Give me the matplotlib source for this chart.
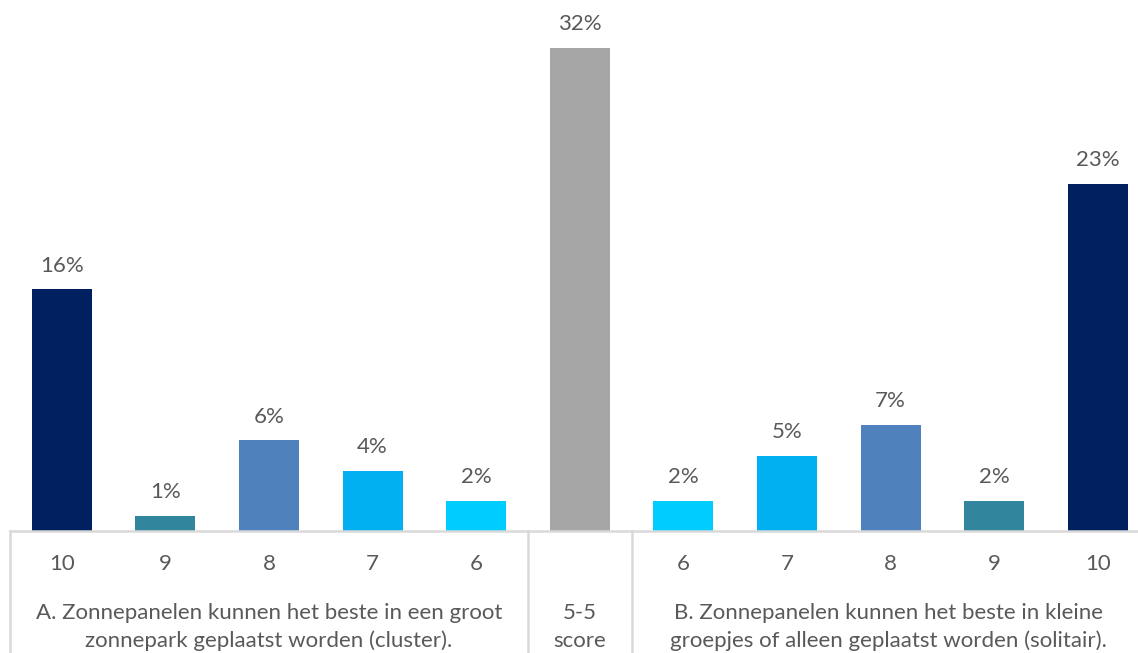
import matplotlib.pyplot as plt
import matplotlib.transforms as mtransforms

# data
ticks = ["10", "9", "8", "7", "6", "", "6", "7", "8", "9", "10"]
values = [16, 1, 6, 4, 2, 32, 2, 5, 7, 2, 23]
colors = ["#002060", "#31859C", "#4F81BD", "#00B0F0", "#00CCFF", "#A6A6A6",
          "#00CCFF", "#00B0F0", "#4F81BD", "#31859C", "#002060"]
group_a = "A. Zonnepanelen kunnen het beste in een groot\nzonnepark geplaatst worden (cluster)."
group_mid = "5-5\nscore"
group_b = "B. Zonnepanelen kunnen het beste in kleine\ngroepjes of alleen geplaatst worden (solitair)."

plt.rcParams['font.family'] = ['Lato', 'DejaVu Sans']
txt = "#595959"
fs = 16

fig = plt.figure(figsize=(11.38, 6.53), dpi=100)
W, H = 1138, 653
cat_w = 103.6
ax = fig.add_axes([10 / W, 122 / H, cat_w * 11 / W, 531 / H])

x = list(range(len(values)))
ax.bar(x, values, width=60 / cat_w, color=colors)
for xi, v in zip(x, values):
    ax.annotate(f"{v}%", (xi, v), xytext=(0, 10), textcoords="offset points",
                ha="center", va="bottom", fontsize=fs, color=txt)

ax.set_xlim(-0.5, 10.5)
ax.set_ylim(0, 531 / 15.1)
ax.axis("off")

# baseline and separators
ax.axhline(0, color="#D9D9D9", lw=1.8, clip_on=False)
trans = mtransforms.blended_transform_factory(ax.transData, ax.transAxes)
for sx in [-0.5, 4.5, 5.5, 10.5]:
    ax.plot([sx, sx], [0, -130 / 531], transform=trans, color="#D9D9D9",
            lw=1.8, clip_on=False)

# category labels
for xi, t in zip(x, ticks):
    ax.text(xi, -33 / 531, t, transform=trans, ha="center", va="center",
            fontsize=fs, color=txt)

for gx, label in [(2, group_a), (5, group_mid), (7.98, group_b)]:
    ax.text(gx, -96 / 531, label, transform=trans, ha="center", va="center",
            fontsize=fs, color=txt, linespacing=1.45)

fig.savefig("out.png", dpi=100)
